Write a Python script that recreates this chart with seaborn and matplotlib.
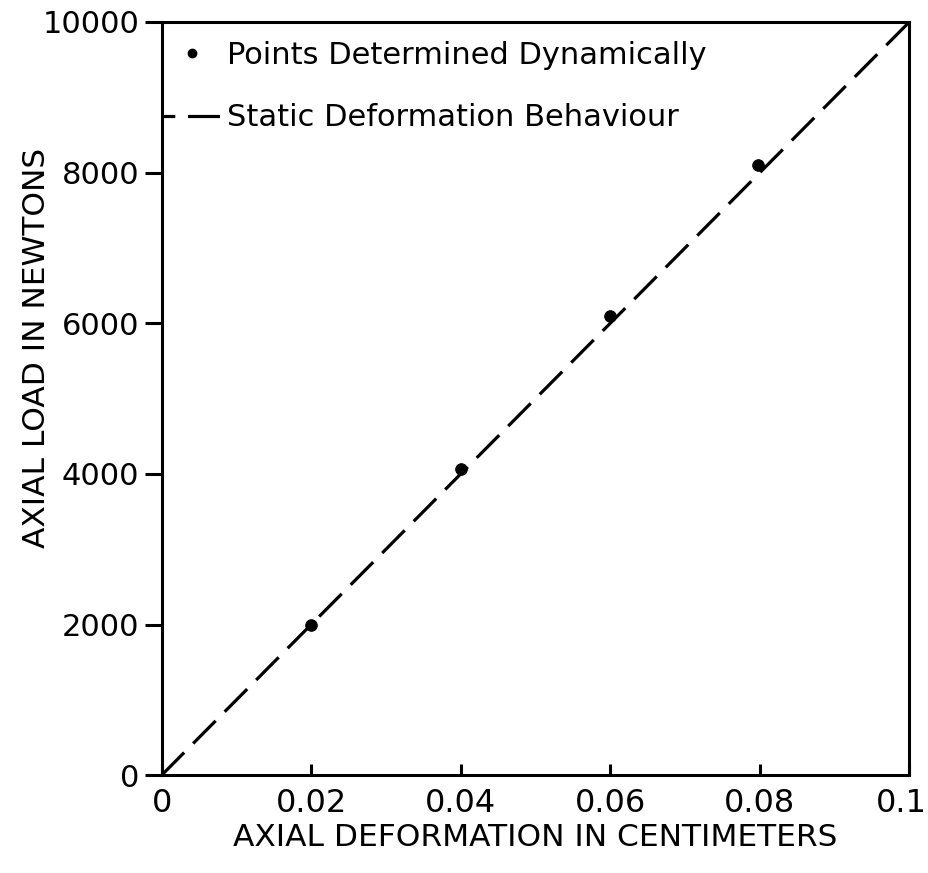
import numpy as np
import matplotlib
matplotlib.use("Agg")
import matplotlib.pyplot as plt
import matplotlib.transforms as mtransforms
import seaborn as sns
from matplotlib.lines import Line2D

# dynamically determined points
defl_pts = [0.02, 0.04, 0.06, 0.0797]
load_pts = [2000, 4060, 6090, 8100]

# static deformation behaviour (straight line)
defl_line = [0.0, 0.1]
load_line = [0, 10000]

xticks = [0, 0.02, 0.04, 0.06, 0.08, 0.1]
xticklabels = ["0", "0.02", "0.04", "0.06", "0.08", "0.1"]
yticks = [0, 2000, 4000, 6000, 8000, 10000]
yticklabels = ["0", "2000", "4000", "6000", "8000", "10000"]

sns.set_style("ticks")
plt.rcParams["font.family"] = ["DejaVu Sans"]
plt.rcParams["text.color"] = "black"
plt.rcParams["axes.labelcolor"] = "black"
plt.rcParams["xtick.color"] = "black"
plt.rcParams["ytick.color"] = "black"

fig = plt.figure(figsize=(9.29, 8.73), dpi=100)
ax = fig.add_axes([0.174, 0.112, 0.805, 0.863])

lw = 2.3
sns.lineplot(x=defl_line, y=load_line, ax=ax, color="black", lw=lw,
             dashes=False, linestyle=(0, (10, 4)))
sns.scatterplot(x=defl_pts, y=load_pts, ax=ax, color="black", s=70,
                edgecolor="black", zorder=5)

ax.set_xlim(0, 0.1)
ax.set_ylim(0, 10000)
ax.set_xticks(xticks)
ax.set_xticklabels(xticklabels)
ax.set_yticks(yticks)
ax.set_yticklabels(yticklabels)

for s in ax.spines.values():
    s.set_linewidth(2.2)
    s.set_color("black")

ax.tick_params(axis="y", direction="out", length=12, width=2.2,
               labelsize=22, pad=4)
ax.tick_params(axis="x", direction="in", length=8, width=2.2,
               labelsize=23, pad=9)

# last x label sits against the right edge, nudge it in a bit
last = ax.get_xticklabels()[-1]
last.set_transform(last.get_transform() +
                   mtransforms.ScaledTranslation(-0.08, 0, fig.dpi_scale_trans))

ax.set_xlabel("AXIAL DEFORMATION IN CENTIMETERS", fontsize=22.5, labelpad=3)
ax.set_ylabel("AXIAL LOAD IN NEWTONS", fontsize=22.5)
ax.yaxis.set_label_coords(-0.148, 0.567)

handles = [
    Line2D([], [], color="black", marker="o", markersize=6, linestyle="none"),
    Line2D([], [], color="black", lw=lw, linestyle=(6, (10, 4))),
]
labels = ["Points Determined Dynamically", "Static Deformation Behaviour"]
ax.legend(handles, labels, loc="upper left", bbox_to_anchor=(0.0, 0.975),
          frameon=False, fontsize=22, handlelength=2.0, handletextpad=0.15,
          labelspacing=1.1, borderaxespad=0, borderpad=0)

fig.savefig("out.png", dpi=100)
